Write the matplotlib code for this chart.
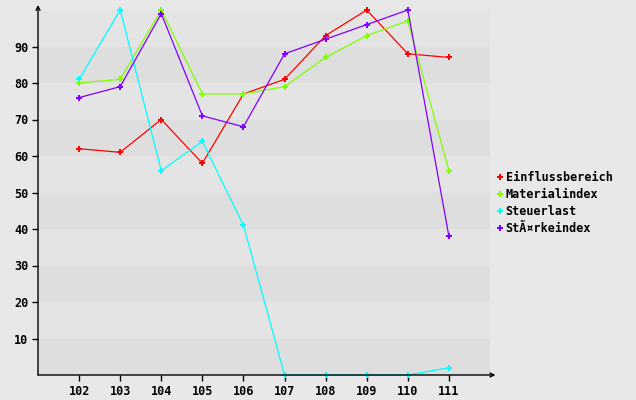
import matplotlib
matplotlib.use("Agg")
import matplotlib.pyplot as plt

categories = [102, 103, 104, 105, 106, 107, 108, 109, 110, 111]
einfluss = [62, 61, 70, 58, 77, 81, 93, 100, 88, 87]
material = [80, 81, 100, 77, 77, 79, 87, 93, 97, 56]
steuer = [81, 100, 56, 64, 41, 0, 0, 0, 0, 2]
staerke = [76, 79, 99, 71, 68, 88, 92, 96, 100, 38]
series_names = ["Einflussbereich", "Materialindex", "Steuerlast", "St\u00c3\u00a4rkeindex"]
series_colors = ["#ff0000", "#80ff00", "#00ffff", "#8000ff"]
yticks = [10, 20, 30, 40, 50, 60, 70, 80, 90]

W, H = 636, 400
fig = plt.figure(figsize=(W / 100, H / 100), dpi=100)
fig.patch.set_facecolor("#e8e8e8")
ax = fig.add_axes([38 / W, 25 / H, 452 / W, 365 / H])
ax.set_facecolor("#e8e8e8")
ax.set_xlim(101, 112)
ax.set_ylim(0, 100)

for i in range(10):
    ax.axhspan(i * 10, i * 10 + 10, color="#dedede" if i % 2 == 0 else "#e4e4e4", lw=0, zorder=0)

font = dict(family="DejaVu Sans Mono", weight="bold", size=8.5)
for vals, name, col in zip([einfluss, material, steuer, staerke], series_names, series_colors):
    ax.plot(categories, vals, color=col, lw=0.9, marker="P", ms=4.2, mec=col, mfc=col, mew=0,
            label=name, clip_on=False, zorder=3)

for s in ax.spines.values():
    s.set_visible(False)
ax.annotate("", xy=(1.012, 0), xytext=(0, 0), xycoords="axes fraction",
            arrowprops=dict(arrowstyle="->", color="black", lw=1, shrinkA=0, shrinkB=0,
                            mutation_scale=7), annotation_clip=False, zorder=4)
ax.annotate("", xy=(0, 1.014), xytext=(0, 0), xycoords="axes fraction",
            arrowprops=dict(arrowstyle="->", color="black", lw=1, shrinkA=0, shrinkB=0,
                            mutation_scale=7), annotation_clip=False, zorder=4)

ax.set_xticks(categories)
ax.set_xticklabels([str(c) for c in categories], **font)
ax.set_yticks(yticks)
ax.set_yticklabels([str(v) for v in yticks], **font)
ax.tick_params(axis="both", direction="out", length=4, width=1, color="black", labelcolor="black")
ax.tick_params(axis="x", pad=3)
ax.tick_params(axis="y", pad=3)

leg = fig.legend(loc="upper left", bbox_to_anchor=(495 / W, 1 - 166 / H), frameon=False,
                 prop=dict(family="DejaVu Sans Mono", weight="bold", size=8.5),
                 handlelength=0.0, handletextpad=0.5, labelspacing=0.35, borderaxespad=0)
for h in leg.legend_handles:
    h.set_linestyle("none")
    h.set_markersize(4.2)

fig.savefig("out.png", dpi=100, facecolor=fig.get_facecolor())
